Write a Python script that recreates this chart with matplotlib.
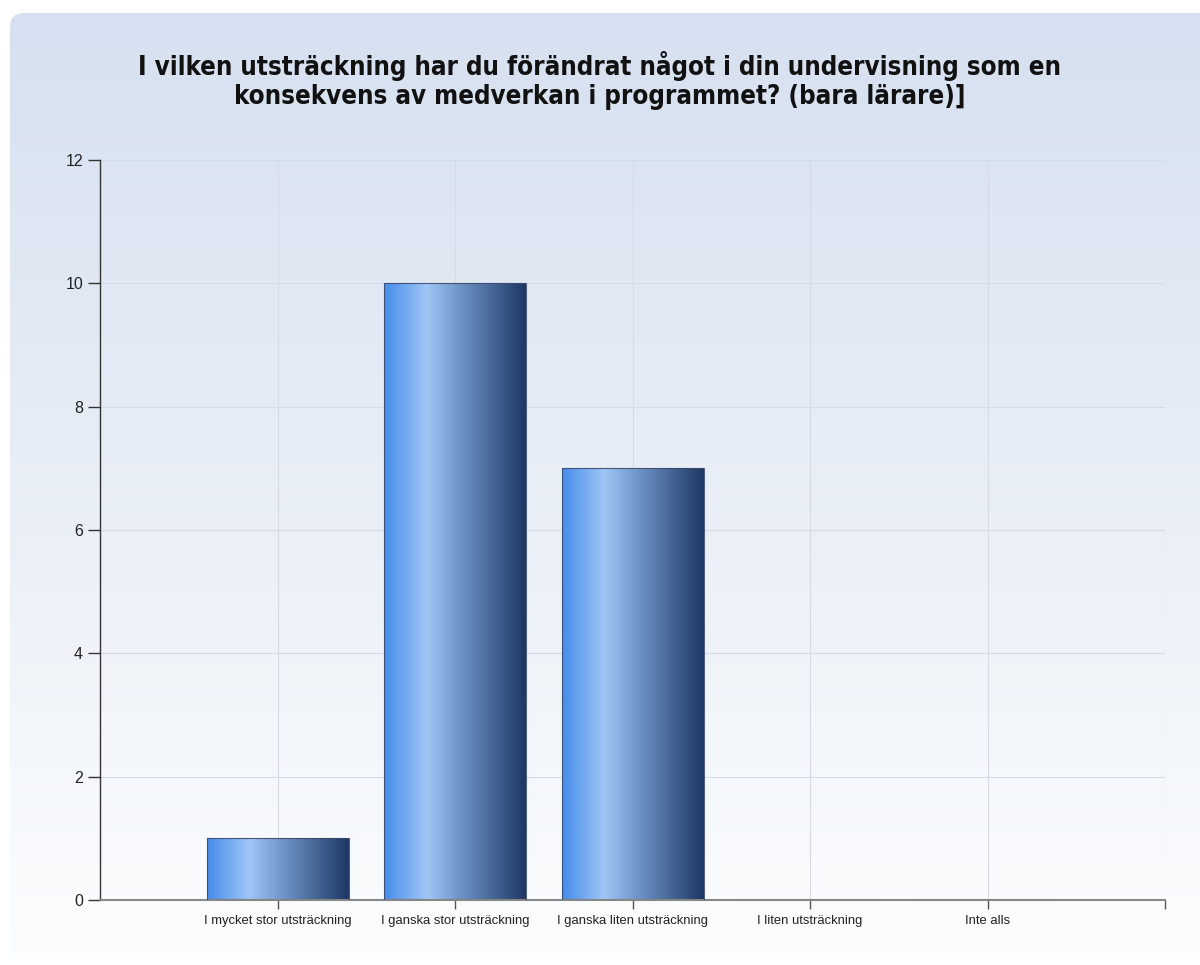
import numpy as np
import matplotlib
matplotlib.use("Agg")
import matplotlib.pyplot as plt
from matplotlib.patches import FancyBboxPatch
from matplotlib.colors import LinearSegmentedColormap

categories = [
    "I mycket stor utsträckning",
    "I ganska stor utsträckning",
    "I ganska liten utsträckning",
    "I liten utsträckning",
    "Inte alls",
]
counts = [1, 10, 7, 0, 0]
y_ticks = [0, 2, 4, 6, 8, 10, 12]
title_lines = [
    "I vilken utsträckning har du förändrat något i din undervisning som en",
    "konsekvens av medverkan i programmet? (bara lärare)]",
]

W, H = 1200, 965
fig = plt.figure(figsize=(W / 100, H / 100), dpi=100)
fig.patch.set_facecolor("white")

# Rounded panel with a vertical blue-to-white gradient
bg = fig.add_axes([0, 0, 1, 1], zorder=0)
bg.set_xlim(0, W)
bg.set_ylim(H, 0)
bg.axis("off")
bg_cmap = LinearSegmentedColormap.from_list(
    "panel", [(214 / 255, 224 / 255, 240 / 255), (252 / 255, 253 / 255, 254 / 255)])
grad = np.linspace(0, 1, 256).reshape(-1, 1)
panel = FancyBboxPatch((10, 13), W + 40, H + 40,
                       boxstyle="round,pad=0,rounding_size=14",
                       facecolor="none", edgecolor="none")
bg.add_patch(panel)
im = bg.imshow(grad, cmap=bg_cmap, aspect="auto", extent=(10, W, 960, 13),
               interpolation="bilinear")
im.set_clip_path(panel)

title_font = dict(fontweight="bold", family="DejaVu Sans", fontstretch="condensed",
                  color="#111111", ha="center", va="center")
t1 = fig.text(0.5, 1 - 66 / H, title_lines[0], fontsize=19, **title_font)
t2 = fig.text(0.5, 1 - 97 / H, title_lines[1], fontsize=19, **title_font)
# scale the title so the first line spans about 922 px
renderer = fig.canvas.get_renderer()
w1 = t1.get_window_extent(renderer).width
fs = 19 * 922 / w1
t1.set_fontsize(fs)
t2.set_fontsize(fs)

ax = fig.add_axes([100 / W, 1 - 900 / H, 1065 / W, 740 / H], zorder=1)
ax.patch.set_alpha(0)

x = np.arange(1, len(categories) + 1)

bars = ax.bar(x, counts, width=0.8, color="none",
              edgecolor=(0.22, 0.28, 0.40, 0.85), linewidth=0.8, zorder=3)

bar_cmap = LinearSegmentedColormap.from_list("bar", [
    (0.00, (70 / 255, 140 / 255, 234 / 255)),
    (0.30, (160 / 255, 198 / 255, 246 / 255)),
    (0.55, (108 / 255, 146 / 255, 196 / 255)),
    (1.00, (30 / 255, 55 / 255, 100 / 255)),
])
hgrad = np.linspace(0, 1, 256).reshape(1, -1)
for b in bars:
    if b.get_height() <= 0:
        continue
    x0, y0 = b.get_x(), b.get_y()
    bim = ax.imshow(hgrad, cmap=bar_cmap, aspect="auto",
                    extent=(x0, x0 + b.get_width(), y0, y0 + b.get_height()),
                    interpolation="bilinear", zorder=2)
    bim.set_clip_path(b)
ax.set_xlim(0, len(categories) + 1)
ax.set_ylim(0, 12)

grid_c = (0.84, 0.86, 0.90)
ax.set_yticks(y_ticks)
ax.set_xticks(list(x) + [len(categories) + 1])
ax.set_xticklabels(categories + [""], fontsize=9.4, family="Liberation Sans",
                   color="#222222")
ax.set_yticklabels([str(v) for v in y_ticks], fontsize=11.5,
                   family="Liberation Sans", color="#222222")
ax.grid(True, color=grid_c, linewidth=0.8, zorder=0)
ax.set_axisbelow(True)

for s in ("top", "right"):
    ax.spines[s].set_visible(False)
ax.spines["left"].set_color("#333333")
ax.spines["left"].set_linewidth(1.0)
ax.spines["bottom"].set_color("#888888")
ax.spines["bottom"].set_linewidth(1.5)
ax.tick_params(axis="y", length=8.6, width=1, color="#333333", pad=3.6)
ax.tick_params(axis="x", length=6.5, width=1, color="#555555", pad=4.5)

fig.savefig("out.png", dpi=100)
